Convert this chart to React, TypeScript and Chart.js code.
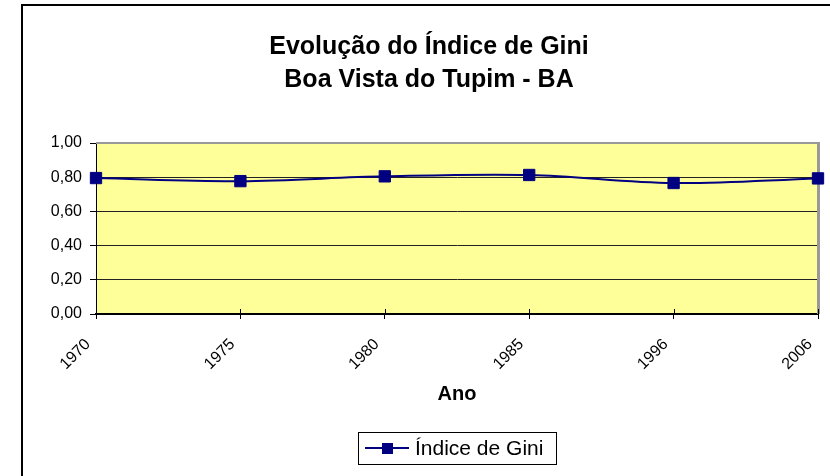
import React, { useEffect, useRef } from 'react';
import { Chart, registerables } from 'chart.js';

Chart.register(...registerables);

const years = ['1970', '1975', '1980', '1985', '1996', '2006'];
const gini = [0.795, 0.777, 0.805, 0.813, 0.766, 0.793];
const titleLines = ['Evolução do Índice de Gini', 'Boa Vista do Tupim - BA'];
const xAxisTitle = 'Ano';
const seriesLabel = 'Índice de Gini';
const yMin = 0;
const yMax = 1;
const yStep = 0.2;

const FONT = '"Liberation Sans", Arial, sans-serif';
const NAVY = '#000080';

const decor = {
  id: 'decor',
  beforeDraw(chart: any) {
    const { ctx, chartArea: a } = chart;
    ctx.save();
    ctx.fillStyle = '#ffffff';
    ctx.fillRect(0, 0, chart.width, chart.height);
    ctx.fillStyle = '#FFFF99';
    ctx.fillRect(a.left, a.top, a.right - a.left, a.bottom - a.top);
    ctx.restore();
  },
  beforeDatasetsDraw(chart: any) {
    const { ctx, chartArea: a } = chart;
    ctx.save();
    ctx.fillStyle = '#999999';
    ctx.fillRect(a.left, a.top - 1, a.right - a.left + 2, 2);
    ctx.fillRect(a.right - 1, a.top - 1, 3, a.bottom - a.top + 1);
    const xs = chart.scales.x;
    ctx.strokeStyle = '#000';
    ctx.lineWidth = 1;
    ctx.beginPath();
    xs.ticks.forEach((_: any, i: number) => {
      const px = Math.round(xs.getPixelForTick(i)) + 0.5;
      ctx.moveTo(px, a.bottom);
      ctx.lineTo(px, a.bottom - 5);
    });
    ctx.stroke();
    ctx.restore();
  },
  afterDraw(chart: any) {
    const { ctx, chartArea: a } = chart;
    ctx.save();
    // outer frame
    ctx.fillStyle = '#000';
    ctx.fillRect(21, 4, chart.width, 2);
    ctx.fillRect(21, 4, 2, chart.height);
    // title
    ctx.font = `bold 25px ${FONT}`;
    ctx.textAlign = 'center';
    ctx.textBaseline = 'middle';
    titleLines.forEach((t, i) => ctx.fillText(t, 429, 47 + i * 33));
    // legend
    const cx = (a.left + a.right) / 2;
    const bw = 198;
    const bh = 32;
    const bx = Math.round(cx - bw / 2);
    const by = 432;
    ctx.strokeStyle = '#000';
    ctx.lineWidth = 1;
    ctx.strokeRect(bx + 0.5, by + 0.5, bw, bh);
    const ly = by + 16;
    ctx.strokeStyle = NAVY;
    ctx.lineWidth = 2;
    ctx.beginPath();
    ctx.moveTo(bx + 7, ly);
    ctx.lineTo(bx + 51, ly);
    ctx.stroke();
    ctx.fillStyle = NAVY;
    ctx.fillRect(bx + 24, ly - 5, 11, 11);
    ctx.fillStyle = '#000';
    ctx.font = `21px ${FONT}`;
    ctx.textAlign = 'left';
    ctx.textBaseline = 'middle';
    ctx.fillText(seriesLabel, bx + 57, ly + 1);
    ctx.restore();
  },
};

export default function App() {
  const ref = useRef<HTMLCanvasElement | null>(null);
  useEffect(() => {
    if (!ref.current) return;
    const chart = new Chart(ref.current, {
      type: 'line',
      data: {
        labels: years,
        datasets: [
          {
            label: seriesLabel,
            data: gini,
            borderColor: NAVY,
            backgroundColor: NAVY,
            borderWidth: 2,
            tension: 0.35,
            pointStyle: 'rect',
            pointRadius: 8,
            pointBorderColor: NAVY,
            pointBackgroundColor: NAVY,
            pointBorderWidth: 1,
            clip: false,
          } as any,
        ],
      },
      options: {
        responsive: false,
        animation: false,
        devicePixelRatio: 1,
        layout: { padding: { left: 22, right: 12, top: 143, bottom: 70 } },
        plugins: {
          legend: { display: false },
          title: { display: false },
          tooltip: { enabled: false },
        },
        scales: {
          x: {
            type: 'category',
            offset: false,
            grid: { drawOnChartArea: false, color: '#000', tickLength: 5, lineWidth: 1 },
            border: { color: '#000', width: 2 },
            ticks: {
              minRotation: 45,
              maxRotation: 45,
              autoSkip: false,
              color: '#000',
              padding: 16,
              labelOffset: -8,
              font: { size: 16, family: FONT },
            },
            title: {
              display: true,
              text: xAxisTitle,
              color: '#000',
              padding: 0,
              font: { size: 20, weight: 'bold', family: FONT },
            },
            afterFit: (s: any) => {
              s.height = 92;
              s.paddingRight = 0;
              s.paddingLeft = 0;
            },
          },
          y: {
            min: yMin,
            max: yMax,
            ticks: {
              stepSize: yStep,
              color: '#000',
              padding: 8,
              font: { size: 16, family: FONT },
              callback: (v: any) => Number(v).toFixed(2).replace('.', ','),
            },
            grid: { color: '#222', tickColor: '#000', tickLength: 6, lineWidth: 1 },
            border: { color: '#000', width: 1 },
            afterFit: (s: any) => {
              s.width = 74;
            },
          },
        },
      } as any,
      plugins: [decor],
    });
    return () => chart.destroy();
  }, []);
  return (
    <div style={{ position: 'fixed', left: 0, top: 0, width: 830, height: 476, background: '#fff' }}>
      <canvas ref={ref} width={830} height={476} style={{ display: 'block' }} />
    </div>
  );
}
